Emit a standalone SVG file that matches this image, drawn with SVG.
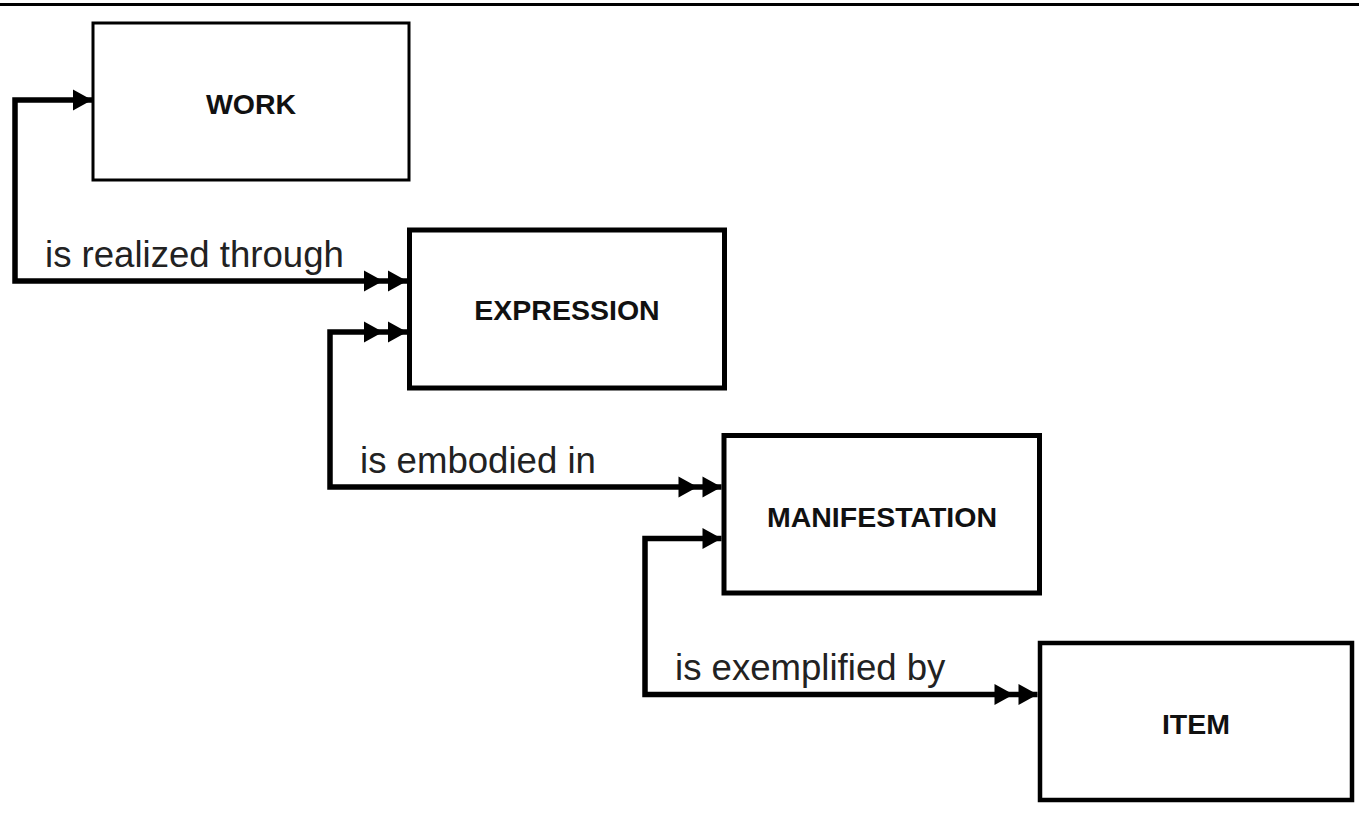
<svg xmlns="http://www.w3.org/2000/svg" width="1359" height="813" viewBox="0 0 1359 813">
  <style>
    .box { fill: #ffffff; stroke: #000000; }
    .lbl { font-family: "Liberation Sans", Arial, sans-serif; font-weight: bold; font-size: 28.5px; fill: #111111; text-anchor: middle; }
    .rel { font-family: "Liberation Sans", Arial, sans-serif; font-size: 36.6px; fill: #222222; }
    .conn { fill: none; stroke: #000000; stroke-width: 5.5; stroke-linejoin: miter; }
  </style>
  <defs>
    <marker id="single" markerUnits="userSpaceOnUse" viewBox="-20 -12 21 24" refX="0" refY="0" markerWidth="21" markerHeight="24" orient="auto-start-reverse">
      <polygon points="-19,-10.5 0,0 -19,10.5" fill="#000000"/>
    </marker>
    <marker id="double" markerUnits="userSpaceOnUse" viewBox="-44 -12 45 24" refX="0" refY="0" markerWidth="45" markerHeight="24" orient="auto-start-reverse">
      <polygon points="-43,-10.5 -24,0 -43,10.5" fill="#000000"/>
      <polygon points="-19,-10.5 0,0 -19,10.5" fill="#000000"/>
    </marker>
  </defs>

  <rect width="1359" height="813" fill="#ffffff"/>
  <line x1="0" y1="4.5" x2="1359" y2="4.5" stroke="#000000" stroke-width="3"/>

  <g id="connectors">
    <path id="c-work-expression" class="conn" d="M 92 100 H 15 V 281 H 407" marker-start="url(#single)" marker-end="url(#double)"/>
    <path id="c-expression-manifestation" class="conn" d="M 407 332 H 330 V 487 H 721.5" marker-start="url(#double)" marker-end="url(#double)"/>
    <path id="c-manifestation-item" class="conn" d="M 721.5 538.5 H 645 V 694.5 H 1037.5" marker-start="url(#single)" marker-end="url(#double)"/>
    <text class="rel" x="45" y="267">is realized through</text>
    <text class="rel" x="360" y="473">is embodied in</text>
    <text class="rel" x="675" y="680">is exemplified by</text>
  </g>

  <g id="work">
    <rect class="box" x="93" y="23" width="316" height="157" stroke-width="3"/>
    <text class="lbl" x="251" y="114">WORK</text>
  </g>
  <g id="expression">
    <rect class="box" x="409.5" y="230" width="315" height="158" stroke-width="5"/>
    <text class="lbl" x="567" y="320">EXPRESSION</text>
  </g>
  <g id="manifestation">
    <rect class="box" x="724" y="435.5" width="315.5" height="157.5" stroke-width="5"/>
    <text class="lbl" x="882" y="527">MANIFESTATION</text>
  </g>
  <g id="item">
    <rect class="box" x="1040" y="643" width="312" height="157" stroke-width="4.5"/>
    <text class="lbl" x="1196" y="734">ITEM</text>
  </g>
</svg>
